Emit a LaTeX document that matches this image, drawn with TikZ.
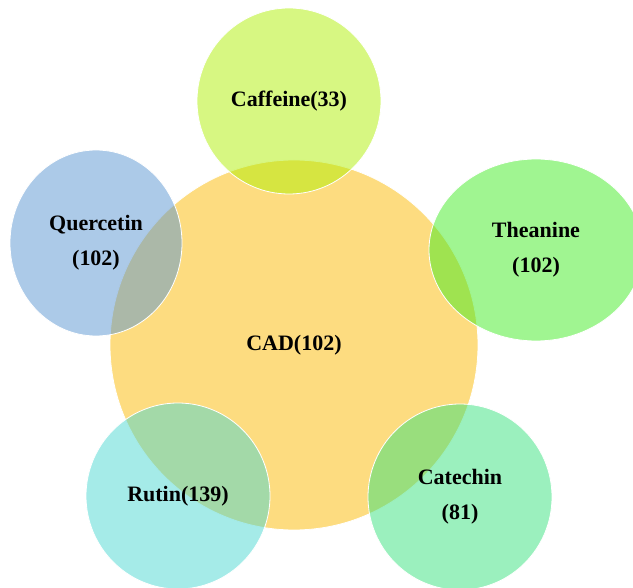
\documentclass[tikz,border=0pt]{standalone}
\usepackage{fontspec}
\setmainfont{Liberation Serif}
\usetikzlibrary{shapes.geometric}

\definecolor{cadcol}{RGB}{251,185,1}
\definecolor{cafcol}{RGB}{175,239,5}
\definecolor{quecol}{RGB}{89,149,209}
\definecolor{theacol}{RGB}{65,235,35}
\definecolor{rutcol}{RGB}{75,215,210}
\definecolor{catcol}{RGB}{55,225,125}

\begin{document}
\begin{tikzpicture}[x=1pt,y=-1pt,
  blob/.style={ellipse,draw=white,line width=0.8pt,fill opacity=0.5,text opacity=1,
    inner sep=0pt,align=center,font=\bfseries\fontsize{22}{35}\selectfont}]
\useasboundingbox (0,0) rectangle (633,588);
\clip (0,0) rectangle (633,588);
% central set first, the others lie over it
\node[blob,fill=cadcol,minimum width=368pt,minimum height=370pt] (cad) at (294,345) {CAD(102)};
\node[blob,fill=cafcol,minimum width=184pt,minimum height=186pt] (caf) at (289,101) {Caffeine(33)};
\node[blob,fill=quecol,minimum width=172pt,minimum height=186pt] (que) at (96,243) {Quercetin\\(102)};
\node[blob,fill=theacol,minimum width=214pt,minimum height=182pt] (thea) at (536,250) {Theanine\\(102)};
\node[blob,fill=rutcol,minimum width=184pt,minimum height=186pt] (rut) at (178,496) {Rutin(139)};
\node[blob,fill=catcol,minimum width=184pt,minimum height=186pt] (cat) at (460,497) {Catechin\\(81)};
\end{tikzpicture}
\end{document}
